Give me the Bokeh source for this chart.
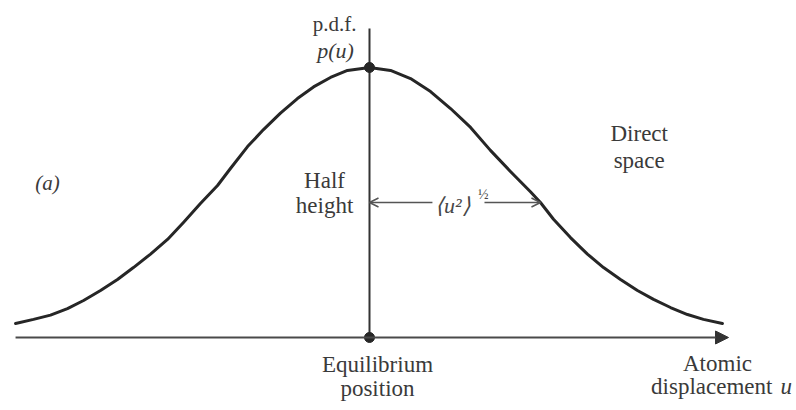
from bokeh.plotting import figure
from bokeh.models import Range1d, Arrow, NormalHead, OpenHead, Label
from bokeh.embed import file_html
from bokeh.resources import INLINE

# Atomic displacement u (in units of the rms displacement) and the
# normalised probability density p(u).
u_vals = [-2.441, -2.317, -2.200, -2.083, -1.972, -1.855, -1.738, -1.628,
          -1.510, -1.393, -1.283, -1.166, -1.048, -0.959, -0.841, -0.731,
          -0.614, -0.497, -0.386, -0.269, -0.152, 0.000,
          0.145, 0.283, 0.421, 0.559, 0.697, 0.834, 0.972, 1.110, 1.179,
          1.269, 1.386, 1.503, 1.614, 1.731, 1.848, 1.959, 2.076, 2.193,
          2.303, 2.434]
p_vals = [0.052, 0.067, 0.083, 0.107, 0.137, 0.174, 0.215, 0.259,
          0.309, 0.363, 0.426, 0.496, 0.563, 0.626, 0.707, 0.770,
          0.831, 0.885, 0.928, 0.963, 0.989, 1.000,
          0.989, 0.959, 0.911, 0.848, 0.778, 0.693, 0.615, 0.540, 0.500,
          0.438, 0.370, 0.309, 0.259, 0.215, 0.174, 0.141, 0.111, 0.085,
          0.067, 0.052]

peak_u, peak_p = 0.0, 1.0          # equilibrium position / maximum density
half_height = 0.5                  # half of the peak density
half_width_u = 1.179               # where the curve crosses half height
axis_start_u, axis_end_u = -2.441, 2.476
vert_top_p = 1.144

INK = "#262626"
TEXT = "#3a3a3a"
SERIF = "'Liberation Serif'"

p = figure(width=796, height=410, output_backend="svg", toolbar_location=None,
           x_axis_type=None, y_axis_type=None, min_border=0,
           x_range=Range1d(-2.5448, 2.9448), y_range=Range1d(-0.2704, 1.2481))
p.outline_line_color = None
p.background_fill_color = "white"
p.border_fill_color = "white"

# displacement axis with its arrow head
p.add_layout(Arrow(x_start=axis_start_u, y_start=0, x_end=axis_end_u, y_end=0,
                   line_color="#4a4a4a", line_width=2.2,
                   end=NormalHead(size=13, fill_color="#333333",
                                  line_color="#333333", line_width=1)))

# vertical line through the equilibrium position
p.segment(x0=[peak_u], y0=[0], x1=[peak_u], y1=[vert_top_p],
          line_color="#333333", line_width=2)

# the density curve
p.line(u_vals, p_vals, line_color=INK, line_width=3, line_join="round",
       line_cap="round")

# markers at the peak and at the origin
p.scatter([peak_u, peak_u], [peak_p, 0], size=10, marker="circle",
          fill_color=INK, line_color=INK)

# half-height width arrows, with a gap for the label
gap_left, gap_right = 0.434, 0.793
p.add_layout(Arrow(x_start=gap_left, y_start=half_height, x_end=peak_u,
                   y_end=half_height, line_color="#555555", line_width=1.5,
                   end=OpenHead(size=9, line_color="#555555", line_width=1.5)))
p.add_layout(Arrow(x_start=gap_right, y_start=half_height, x_end=half_width_u,
                   y_end=half_height, line_color="#555555", line_width=1.5,
                   end=OpenHead(size=9, line_color="#555555", line_width=1.5)))


def label(x, y, text, size=23, style="normal", align="center", color=TEXT):
    p.add_layout(Label(x=x, y=y, text=text, text_font=SERIF,
                       text_font_size=f"{size}px", text_font_style=style,
                       text_align=align, text_baseline="middle",
                       text_color=color))


label(-0.241, 1.160, "p.d.f.", size=21)
label(-0.234, 1.063, "p(u)", size=22, style="italic")
label(-2.221, 0.574, "(a)", size=21, style="italic")
label(-0.31, 0.580, "Half", size=23)
label(-0.31, 0.490, "height", size=23)
label(1.860, 0.756, "Direct", size=23)
label(1.860, 0.656, "space", size=23)
label(0.055, -0.100, "Equilibrium", size=23)
label(0.055, -0.190, "position", size=23)
label(2.40, -0.096, "Atomic", size=23)
label(2.779, -0.181, "displacement", size=23, align="right")
label(2.834, -0.181, "u", size=23, style="italic", align="left")
label(0.575, 0.490, "⟨u²⟩", size=22, style="italic", color="#474747")
label(0.785, 0.530, "½", size=14, color="#474747")

open("out.html", "w").write(file_html(p, INLINE))
